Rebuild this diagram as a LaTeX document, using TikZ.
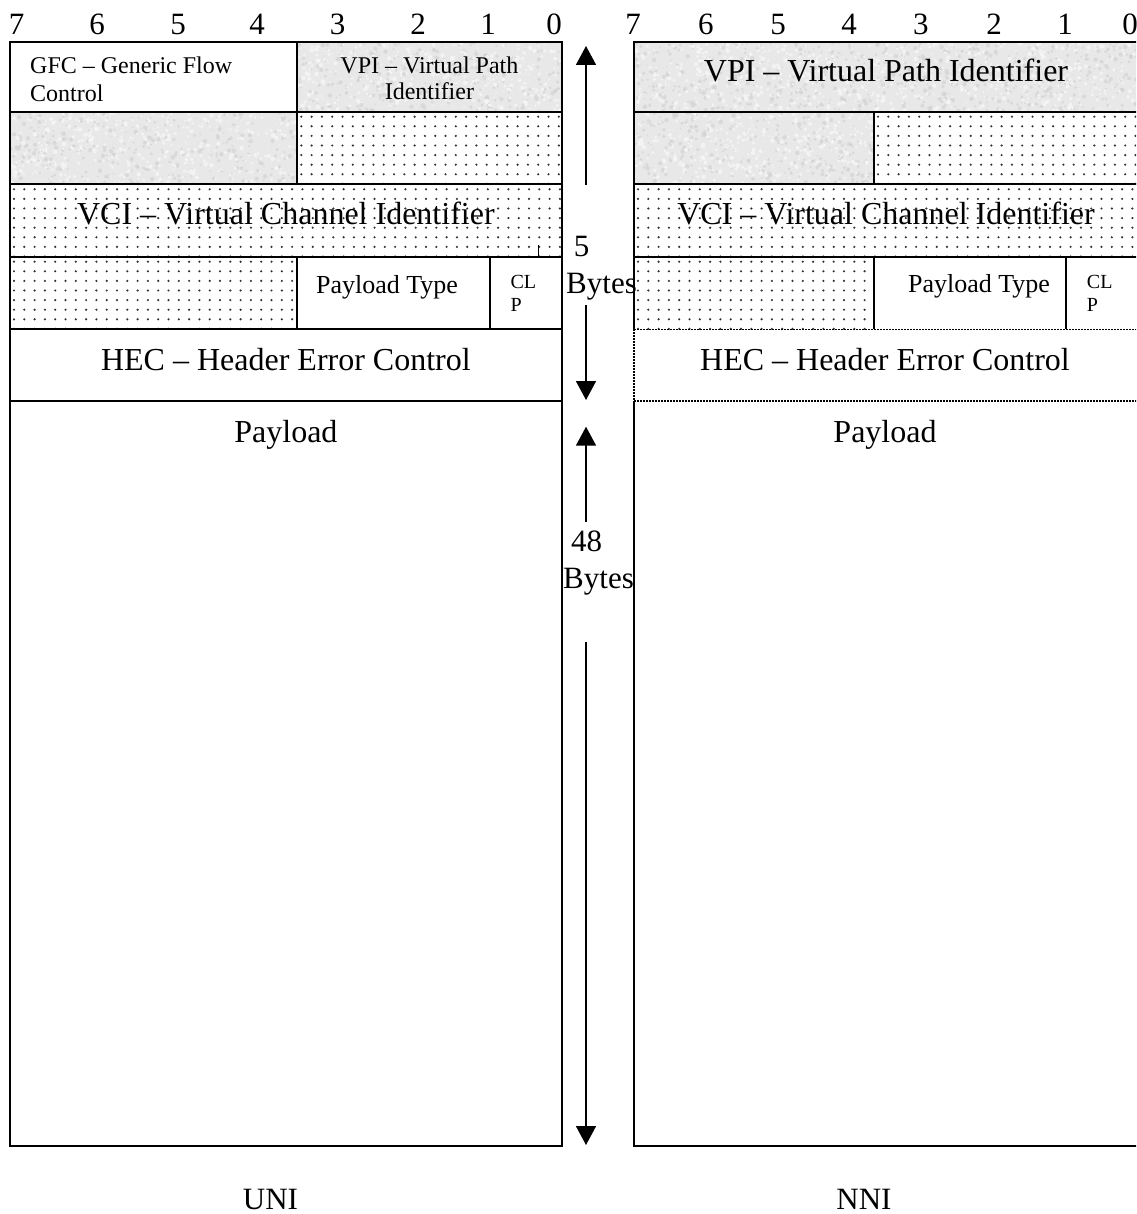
\documentclass[tikz,border=0pt]{standalone}
\usepackage{fontspec}
\setmainfont{Liberation Serif}
\usetikzlibrary{arrows.meta}

\definecolor{granitebase}{HTML}{E8E8E8}
\definecolor{granitelight}{HTML}{F6F6F6}
\definecolor{granitedark}{HTML}{D3D3D3}
\definecolor{dotink}{HTML}{333333}

% mottled grey fill inside the rectangle (#1,#2)-(#3,#4)
\newcommand\granite[4]{%
  \begin{scope}
    \clip (#1,#2) rectangle (#3,#4);
    \fill[granitebase] (#1,#2) rectangle (#3,#4);
    \pgfmathsetmacro\gw{#3-#1}%
    \pgfmathsetmacro\gh{#4-#2}%
    \pgfmathtruncatemacro\gn{\gw/5*\gh/5}%
    \foreach \i in {1,...,\gn}{%
      \pgfmathsetmacro\gx{#1+rnd*\gw}%
      \pgfmathsetmacro\gy{#2+rnd*\gh}%
      \pgfmathsetmacro\gr{0.7+rnd*1.6}%
      \pgfmathsetmacro\gc{rnd}%
      \ifdim\gc pt<0.55pt
        \fill[granitelight, opacity=0.85] (\gx,\gy) circle[radius=\gr pt];
      \else
        \fill[granitedark, opacity=0.7] (\gx,\gy) circle[radius=\gr pt];
      \fi
    }
  \end{scope}}

% regular grid of small dots inside the rectangle (#1,#2)-(#3,#4)
\newcommand\dotfield[4]{%
  \begin{scope}
    \clip (#1,#2) rectangle (#3,#4);
    \pgfmathsetmacro\xa{#1+4}\pgfmathsetmacro\xb{#1+14.3}%
    \pgfmathsetmacro\ya{#2+5}\pgfmathsetmacro\yb{#2+14.6}%
    \foreach \gx in {\xa,\xb,...,#3}{%
      \foreach \gy in {\ya,\yb,...,#4}{%
        \fill[dotink] (\gx,\gy) circle[radius=1.2pt];
      }
    }
  \end{scope}}

\tikzset{
  cellline/.style={line width=1.8pt},
  dotrule/.style={line width=1.5pt, dash pattern=on 1.5pt off 1.5pt},
  thinrule/.style={line width=1pt},
  bigtxt/.style={font=\fontsize{32}{38}\selectfont, inner sep=0pt},
  bittxt/.style={font=\fontsize{31}{36}\selectfont, inner sep=0pt, anchor=base},
  midtxt/.style={font=\fontsize{26}{31}\selectfont, inner sep=0pt},
  smalltxt/.style={font=\fontsize{24}{28}\selectfont, inner sep=0pt},
  tinytxt/.style={font=\fontsize{20}{24}\selectfont, inner sep=0pt, anchor=base west},
  sizearrow/.style={line width=1.6pt, -{Triangle[width=20pt,length=19pt]}},
}

\begin{document}
\begin{tikzpicture}[x=1pt,y=-1pt]
\useasboundingbox (0,0) rectangle (1136,1214);
\clip (0,0) rectangle (1136,1214);
\pgfmathsetseed{11}

% ---------- UNI cell: fills ----------
\granite{297.3}{41.7}{561.7}{111.7}
\granite{10}{111.7}{297.3}{184.3}
\dotfield{297.3}{111.7}{561.7}{184.3}
\dotfield{10}{184.3}{561.7}{256.7}
\dotfield{10}{256.7}{297.3}{329}

% ---------- NNI cell: fills ----------
\granite{634}{41.7}{1137}{111.7}
\granite{634}{111.7}{874}{184.3}
\dotfield{874}{111.7}{1137}{184.3}
\dotfield{634}{184.3}{1137}{256.7}
\dotfield{634}{256.7}{874}{329.3}

% ---------- UNI cell: rules ----------
\draw[cellline] (10,41.7) rectangle (561.7,1146);
\foreach \ry in {111.7,184.3,256.7,329,401}
  \draw[cellline] (10,\ry) -- (561.7,\ry);
\draw[cellline] (297.3,41.7) -- (297.3,184.3);
\draw[cellline] (297.3,256.7) -- (297.3,329);
\draw[cellline] (490,256.7) -- (490,329);
\draw[thinrule] (538,245) -- (538,256.7);

% ---------- NNI cell: rules ----------
\draw[cellline] (634,329.3) -- (634,41.7) -- (1140,41.7);
\foreach \ry in {111.7,184.3,256.7}
  \draw[cellline] (634,\ry) -- (1140,\ry);
\draw[cellline] (874,111.7) -- (874,184.3);
\draw[cellline] (874,256.7) -- (874,329.3);
\draw[cellline] (1066,256.7) -- (1066,329.3);
\draw[dotrule] (634,329.3) -- (1140,329.3);
\draw[dotrule] (634,329.3) -- (634,401);
\draw[dotrule] (634,401) -- (1140,401);
\draw[cellline] (634,401) -- (634,1146) -- (1140,1146);

% ---------- bit numbers ----------
\foreach \bx/\bn [count=\k] in {16.7/7,97/6,178/5,257/4,337.7/3,418/2,488/1,554/0}
  \node[bittxt] (ubit\k) at (\bx,35) {\bn};
\foreach \bx/\bn [count=\k] in {633/7,705.8/6,778/5,849/4,920.8/3,994/2,1065/1,1130/0}
  \node[bittxt] (nbit\k) at (\bx,35) {\bn};

% ---------- UNI texts ----------
\node[smalltxt, anchor=base west] (gfcA) at (30,74) {GFC – Generic Flow};
\node[smalltxt, anchor=base west] (gfcB) at (30,101.7) {Control};
\node[smalltxt, anchor=base] (uvpiA) at (429.4,73.3) {VPI – Virtual Path};
\node[smalltxt, anchor=base] (uvpiB) at (429.4,100) {Identifier};
\node[bigtxt, anchor=base] (uvci) at (285.9,225) {VCI – Virtual Channel Identifier};
\node[midtxt, anchor=base] (upt) at (387,293.3) {Payload Type};
\node[tinytxt] (uclpA) at (510.4,288.3) {CL};
\node[tinytxt] (uclpB) at (510.4,311.7) {P};
\node[bigtxt, anchor=base] (uhec) at (285.9,370) {HEC – Header Error Control};
\node[bigtxt, anchor=base] (upay) at (285.9,442) {Payload};

% ---------- NNI texts ----------
\node[bigtxt, anchor=base] (nvpi) at (886,81.7) {VPI – Virtual Path Identifier};
\node[bigtxt, anchor=base] (nvci) at (886,225) {VCI – Virtual Channel Identifier};
\node[midtxt, anchor=base] (npt) at (979,292.7) {Payload Type};
\node[tinytxt] (nclpA) at (1086.7,288.3) {CL};
\node[tinytxt] (nclpB) at (1086.7,311.7) {P};
\node[bigtxt, anchor=base] (nhec) at (885,370) {HEC – Header Error Control};
\node[bigtxt, anchor=base] (npay) at (885,442) {Payload};

% ---------- size markers ----------
\node[bittxt] (hdrnum) at (581.7,256.7) {5};
\node[bittxt, anchor=base west] (hdrunit) at (566,293.3) {Bytes};
\node[bittxt] (paynum) at (586.7,551.7) {48};
\node[bittxt, anchor=base west] (payunit) at (563,588) {Bytes};

\coordinate (hdrtop) at (586,46);
\coordinate (hdrupper) at (586,185);
\coordinate (hdrlower) at (586,305);
\coordinate (hdrbot) at (586,400);
\coordinate (paytop) at (586,426.7);
\coordinate (payupper) at (586,521.7);
\coordinate (paylower) at (586,641.7);
\coordinate (paybot) at (586,1145);
\draw[sizearrow] (hdrupper) -- (hdrtop);
\draw[sizearrow] (hdrlower) -- (hdrbot);
\draw[sizearrow] (payupper) -- (paytop);
\draw[sizearrow] (paylower) -- (paybot);

% ---------- captions ----------
\node[bittxt] (uni) at (270.5,1209) {UNI};
\node[bittxt] (nni) at (864,1209) {NNI};
\end{tikzpicture}
\end{document}
